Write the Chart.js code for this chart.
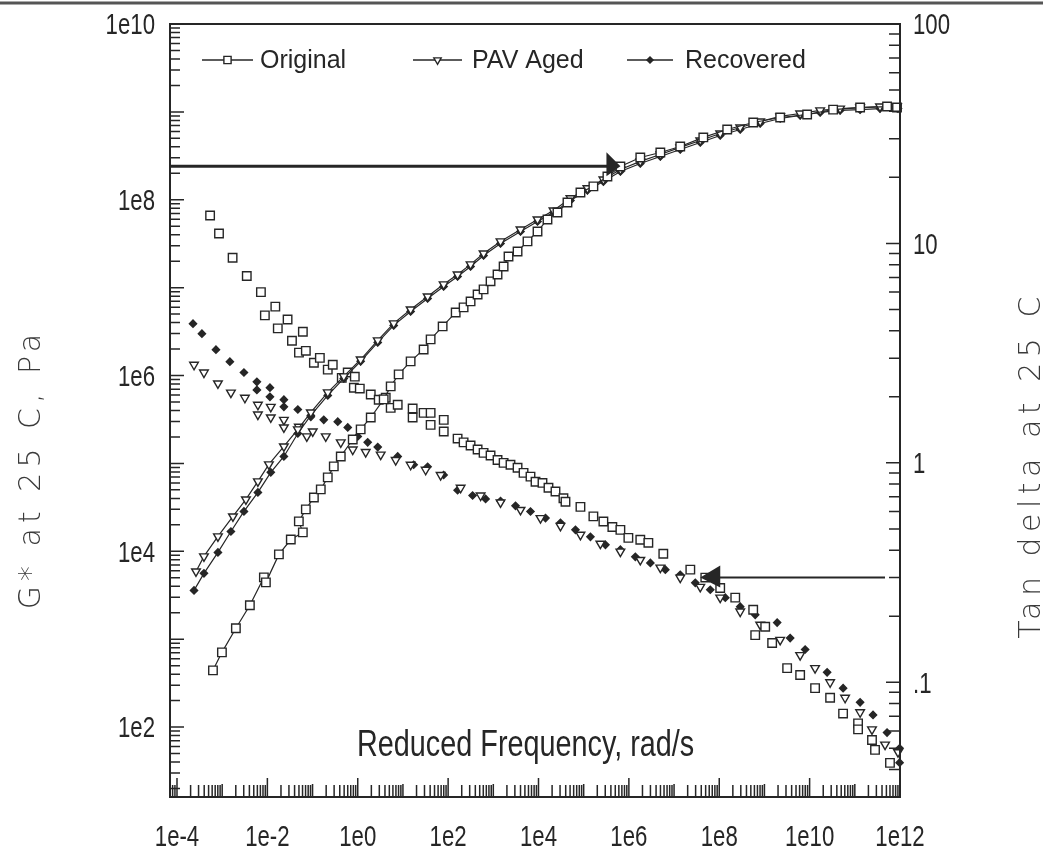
<!DOCTYPE html>
<html>
<head>
<meta charset="utf-8">
<script src="https://cdn.jsdelivr.net/npm/chart.js@4.4.1/dist/chart.umd.min.js"></script>
<style>
html,body{margin:0;padding:0;background:#fff;}
canvas{display:block;}
</style>
</head>
<body>
<canvas id="c" width="1043" height="859"></canvas>
<script>
// ---------- tick values / labels ----------
const xTickValues = [1e-4, 1e-2, 1e0, 1e2, 1e4, 1e6, 1e8, 1e10, 1e12];
const xTickLabels = ['1e-4', '1e-2', '1e0', '1e2', '1e4', '1e6', '1e8', '1e10', '1e12'];
const gTickValues = [1e2, 1e4, 1e6, 1e8, 1e10];
const gTickLabels = ['1e2', '1e4', '1e6', '1e8', '1e10'];
const tanTickValues = [0.1, 1, 10, 100];
const tanTickLabels = ['.1', '1', '10', '100'];

const seriesNames = ['Original', 'PAV Aged', 'Recovered'];
const xTitle = 'Reduced Frequency, rad/s';
const gTitle = 'G* at 25 C, Pa';
const tanTitle = 'Tan delta at 25 C';

// annotation arrows (value on axis, frequency of the arrow tip)
const arrowG = { value: 2.4e8, tip: 6.5e5 };
const arrowTan = { value: 0.3, tip: 3.8e7 };

// ---------- data: [reduced frequency rad/s, value] ----------
const originalG = [[6.25e-4,442],[9.87e-4,708],[2.01e-3,1330],[4.10e-3,2430],[8.37e-3,5050],[9.27e-3,4430],[1.80e-2,9220],[3.30e-2,1.36e4],[6.09e-2,1.64e4],[4.97e-2,2.19e4],[7.10e-2,3.00e4],[0.107,4.10e4],[0.152,5.06e4],[0.217,6.93e4],[0.295,9.25e4],[0.421,1.20e5],[0.775,1.87e5],[1.16,2.44e5],[1.94,3.33e5],[3.75,5.35e5],[5.36,7.52e5],[8.05,1.03e6],[14.8,1.45e6],[28.7,1.98e6],[41.0,2.58e6],[75.6,3.62e6],[147,5.22e6],[220,5.96e6],[314,6.97e6],[449,8.37e6],[609,9.55e6],[869,1.18e7],[1240,1.41e7],[1690,1.74e7],[2170,2.26e7],[3440,2.58e7],[5710,3.36e7],[9510,4.36e7],[15800,5.97e7],[26300,7.16e7],[43750,9.32e7],[84770,1.21e8],[1.64e5,1.42e8],[3.35e5,1.84e8],[6.49e5,2.39e8],[1.79e6,3.03e8],[4.97e6,3.45e8],[1.37e7,4.04e8],[4.44e7,5.12e8],[1.50e8,6.31e8],[5.65e8,7.57e8],[2.23e9,8.63e8],[8.81e9,9.34e8],[3.31e10,1.06e9],[1.31e11,1.12e9],[5.17e11,1.15e9],[8.59e11,1.12e9]];

const pavG = [[2.63e-4,5900],[3.95e-4,8750],[8.05e-4,1.48e4],[1.73e-3,2.49e4],[3.35e-3,3.89e4],[6.17e-3,6.24e4],[1.08e-2,9.75e4],[2.32e-2,1.56e5],[4.72e-2,2.44e5],[9.15e-2,3.80e5],[0.217,6.43e5],[0.491,9.77e5],[1.16,1.52e6],[2.77,2.51e6],[6.25,3.92e6],[14.8,5.65e6],[35.2,7.94e6],[79.6,1.09e7],[162,1.41e7],[314,1.84e7],[609,2.45e7],[1445,3.36e7],[4000,4.59e7],[9510,5.97e7],[21480,7.55e7],[50930,1.04e8],[1.21e5,1.35e8],[2.73e5,1.70e8],[6.49e5,2.21e8],[1.79e6,2.73e8],[4.97e6,3.27e8],[1.37e7,3.94e8],[3.80e7,4.73e8],[1.05e8,5.68e8],[2.91e8,6.65e8],[8.05e8,7.78e8],[2.23e9,8.87e8],[6.17e9,9.59e8],[1.71e10,1.04e9],[4.72e10,1.09e9],[1.31e11,1.12e9],[3.61e11,1.15e9],[8.59e11,1.15e9]];

const recoveredG = [[2.38e-4,3590],[3.95e-4,5610],[8.05e-4,9710],[1.56e-3,1.68e4],[3.03e-3,2.84e4],[6.17e-3,4.68e4],[1.19e-2,7.91e4],[2.32e-2,1.20e5],[4.72e-2,2.19e5],[9.15e-2,3.52e5],[0.217,5.94e5],[0.491,9.27e5],[1.16,1.45e6],[2.77,2.38e6],[6.25,3.72e6],[14.8,5.36e6],[35.2,7.54e6],[79.6,1.03e7],[162,1.34e7],[314,1.74e7],[609,2.32e7],[1445,3.18e7],[4000,4.36e7],[9510,5.66e7],[21480,7.16e7],[50930,9.82e7],[1.21e5,1.28e8],[2.73e5,1.61e8],[6.49e5,2.10e8],[1.79e6,2.59e8],[4.97e6,3.11e8],[1.37e7,3.73e8],[3.80e7,4.49e8],[1.05e8,5.39e8],[2.91e8,6.31e8],[8.05e8,7.38e8],[2.23e9,8.41e8],[6.17e9,9.10e8],[1.71e10,9.85e8],[4.72e10,1.04e9],[1.31e11,1.06e9],[3.61e11,1.09e9],[9.04e11,1.09e9]];

const originalTan = [[5.4e-4,13.4],[8.5e-4,11.1],[1.7e-3,8.6],[3.5e-3,7.1],[7.2e-3,6.0],[8.8e-3,4.7],[1.5e-2,5.15],[1.7e-2,4.1],[2.8e-2,4.5],[3.5e-2,3.6],[6.1e-2,3.96],[5.0e-2,3.18],[7.1e-2,3.24],[0.107,2.86],[0.145,3.01],[0.217,2.66],[0.28,2.8],[0.443,2.44],[0.60,2.58],[0.86,2.47],[0.82,2.2],[1.11,2.18],[1.94,2.05],[2.91,1.94],[4.16,1.98],[5.36,1.78],[7.66,1.84],[16.4,1.77],[16.4,1.61],[28.7,1.69],[41,1.69],[41,1.49],[80,1.57],[80,1.39],[162,1.29],[220,1.24],[314,1.2],[449,1.15],[609,1.11],[869,1.08],[1240,1.03],[1690,1.0],[2400,0.98],[3440,0.95],[4670,0.9],[6650,0.865],[8590,0.82],[12250,0.81],[16630,0.77],[23760,0.74],[35650,0.69],[39540,0.665],[84770,0.63],[1.64e5,0.57],[2.73e5,0.54],[4.31e5,0.51],[6.49e5,0.495],[9.75e5,0.455],[1.79e6,0.446],[2.70e6,0.432],[5.78e6,0.385],[2.29e7,0.326],[4.91e7,0.30],[1.05e8,0.269],[2.26e8,0.243],[5.64e8,0.214],[6.25e8,0.164],[1.04e9,0.179],[1.48e9,0.151],[3.18e9,0.116],[6.17e9,0.108],[1.32e10,0.094],[2.84e10,0.085],[5.5e10,0.072],[1.18e11,0.065],[1.18e11,0.061],[2.4e11,0.0546],[2.8e11,0.0492],[6.0e11,0.0429]];

const pavTan = [[2.38e-4,2.80],[3.95e-4,2.58],[8.05e-4,2.30],[1.56e-3,2.09],[3.18e-3,1.98],[6.17e-3,1.84],[6.17e-3,1.66],[1.19e-2,1.80],[1.19e-2,1.61],[2.32e-2,1.57],[2.32e-2,1.45],[4.97e-2,1.46],[7.46e-2,1.32],[0.101,1.39],[0.196,1.32],[0.421,1.24],[0.775,1.15],[1.50,1.12],[3.22,1.09],[6.92,1.03],[14.8,0.98],[31.8,0.93],[68.3,0.88],[189,0.77],[523,0.71],[1445,0.66],[4000,0.61],[11070,0.56],[30630,0.516],[84770,0.47],[2.34e5,0.428],[6.49e5,0.394],[1.79e6,0.361],[4.97e6,0.333],[1.37e7,0.30],[3.80e7,0.272],[1.05e8,0.243],[2.91e8,0.21],[8.05e8,0.183],[2.23e9,0.156],[6.17e9,0.133],[1.32e10,0.116],[2.84e10,0.100],[6.09e10,0.085],[1.31e11,0.073],[2.40e11,0.061],[4.67e11,0.052],[9.04e11,0.048]];

const recoveredTan = [[2.26e-4,4.31],[3.56e-4,3.88],[7.28e-4,3.28],[1.48e-3,2.89],[3.03e-3,2.58],[5.86e-3,2.34],[5.86e-3,2.15],[1.14e-2,2.20],[1.14e-2,2.00],[2.32e-2,1.94],[2.32e-2,1.80],[4.72e-2,1.75],[9.15e-2,1.62],[0.177,1.57],[0.361,1.54],[0.601,1.45],[1.0,1.32],[1.66,1.24],[2.77,1.18],[7.66,1.07],[17.3,0.98],[35.2,0.96],[79.6,0.88],[162,0.75],[348,0.71],[675,0.685],[1445,0.67],[3100,0.637],[6650,0.60],[14290,0.56],[30630,0.533],[65770,0.495],[1.41e5,0.46],[3.03e5,0.423],[6.49e5,0.402],[1.39e6,0.373],[2.99e6,0.35],[6.41e6,0.326],[1.37e7,0.309],[2.95e7,0.284],[6.33e7,0.264],[1.36e8,0.243],[2.91e8,0.221],[6.25e8,0.203],[1.91e9,0.187],[3.71e9,0.159],[7.96e9,0.141],[2.44e10,0.111],[5.51e10,0.094],[1.31e11,0.081],[2.53e11,0.071],[5.17e11,0.059],[9.8e11,0.050],[9.8e11,0.043]];

// ---------- styling ----------
const INK = '#262626';
const SANS = "'Liberation Sans','Arimo','DejaVu Sans',sans-serif";
const TITLEFONT = "'DejaVu Sans','Noto Sans',sans-serif";

function toPts(a) { return a.map(p => ({ x: p[0], y: p[1] })); }

const markerStyles = [
  { pointStyle: 'rect', rotation: 0, radius: 6, fill: '#fff' },
  { pointStyle: 'triangle', rotation: 180, radius: 5, fill: '#fff' },
  { pointStyle: 'rectRot', rotation: 0, radius: 3.6, fill: INK }
];

function ds(label, data, axis, m, line, inLegend) {
  return {
    label: label, data: toPts(data), yAxisID: axis, showLine: line,
    borderColor: INK, borderWidth: 1.2, tension: 0,
    pointStyle: m.pointStyle, pointRotation: m.rotation, pointRadius: m.radius,
    pointBackgroundColor: m.fill, pointBorderColor: INK, pointBorderWidth: 1.4,
    clip: false, inLegend: inLegend, marker: m
  };
}

const datasets = [
  ds(seriesNames[0], originalG, 'y', markerStyles[0], true, true),
  ds(seriesNames[1], pavG, 'y', markerStyles[1], true, true),
  ds(seriesNames[2], recoveredG, 'y', markerStyles[2], true, true),
  ds(seriesNames[0] + ' (tan delta)', originalTan, 'y1', markerStyles[0], false, false),
  ds(seriesNames[1] + ' (tan delta)', pavTan, 'y1', markerStyles[1], false, false),
  ds(seriesNames[2] + ' (tan delta)', recoveredTan, 'y1', markerStyles[2], false, false)
];

// ---------- custom drawing: frame, inner ticks, labels, arrows, titles, legend ----------
const extras = {
  id: 'extras',
  afterDraw(chart) {
    const { ctx, chartArea: a, scales } = chart;
    const sx = scales.x, sl = scales.y, sr = scales.y1;
    ctx.save();

    // scanned page border line at top
    ctx.strokeStyle = '#555'; ctx.lineWidth = 3;
    ctx.beginPath(); ctx.moveTo(0, 3); ctx.lineTo(chart.width, 3); ctx.stroke();

    // frame
    ctx.strokeStyle = INK; ctx.lineWidth = 2;
    ctx.strokeRect(a.left, a.top, a.right - a.left, a.bottom - a.top);

    // log ticks pointing inward
    function logTicks(scale, cb) {
      const lo = Math.floor(Math.log10(scale.min)), hi = Math.ceil(Math.log10(scale.max));
      for (let e = lo; e <= hi; e++) {
        for (let m = 1; m <= 9; m++) {
          const v = m * Math.pow(10, e);
          if (v < scale.min * 0.999 || v > scale.max * 1.001) continue;
          cb(scale.getPixelForValue(v), m, e);
        }
      }
    }
    ctx.lineWidth = 1.5;
    ctx.beginPath();
    logTicks(sx, (p, m, e) => { const len = m === 1 ? (e % 2 === 0 ? 19 : 13) : 12; ctx.moveTo(p, a.bottom); ctx.lineTo(p, a.bottom - len); });
    logTicks(sl, (p, m) => { const len = m === 1 ? 14 : 10; ctx.moveTo(a.left, p); ctx.lineTo(a.left + len, p); });
    logTicks(sr, (p, m) => { const len = m === 1 ? 14 : 11; ctx.moveTo(a.right, p); ctx.lineTo(a.right - len, p); });
    ctx.stroke();

    // condensed text helper (plotter-style narrow lettering)
    function narrowText(txt, x, y, align, sxf) {
      ctx.save(); ctx.translate(x, y); ctx.scale(sxf, 1);
      ctx.textAlign = align; ctx.fillText(txt, 0, 0); ctx.restore();
    }

    // tick labels
    ctx.fillStyle = INK;
    ctx.font = '30px ' + SANS;
    ctx.textBaseline = 'middle';
    xTickValues.forEach((v, i) => narrowText(xTickLabels[i], sx.getPixelForValue(v), a.bottom + 41, 'center', 0.74));
    gTickValues.forEach((v, i) => narrowText(gTickLabels[i], a.left - 15, sl.getPixelForValue(v) + 2, 'right', 0.74));
    tanTickValues.forEach((v, i) => narrowText(tanTickLabels[i], a.right + 13, sr.getPixelForValue(v) + 2, 'left', 0.74));

    // arrow 1: from left axis toward G* curves
    ctx.fillStyle = INK; ctx.strokeStyle = INK;
    const y1p = sl.getPixelForValue(arrowG.value);
    const t1 = sx.getPixelForValue(arrowG.tip);
    ctx.lineWidth = 3;
    ctx.beginPath(); ctx.moveTo(a.left, y1p); ctx.lineTo(t1 - 10, y1p); ctx.stroke();
    ctx.beginPath(); ctx.moveTo(t1, y1p); ctx.lineTo(t1 - 14, y1p - 14); ctx.lineTo(t1 - 14, y1p + 10); ctx.closePath(); ctx.fill();

    // arrow 2: from right axis toward tan delta curves
    const y2p = sr.getPixelForValue(arrowTan.value);
    const t2 = sx.getPixelForValue(arrowTan.tip);
    ctx.lineWidth = 2;
    ctx.beginPath(); ctx.moveTo(t2 + 12, y2p); ctx.lineTo(a.right - 15, y2p); ctx.stroke();
    ctx.beginPath(); ctx.moveTo(t2, y2p); ctx.lineTo(t2 + 20, y2p - 12); ctx.lineTo(t2 + 20, y2p + 10); ctx.closePath(); ctx.fill();

    // x title inside plot
    ctx.fillStyle = INK;
    ctx.font = '36px ' + SANS;
    ctx.textBaseline = 'middle';
    narrowText(chart.options.scales.x.title.text, a.left + 187, a.bottom - 51, 'left', 0.8);

    // rotated y titles
    ctx.fillStyle = '#3a3a3a';
    ctx.font = '300 30px ' + TITLEFONT;
    ctx.textAlign = 'center'; ctx.textBaseline = 'alphabetic';
    try { ctx.letterSpacing = '5px'; } catch (e) {}
    ctx.save(); ctx.translate(40, 469); ctx.rotate(-Math.PI / 2);
    ctx.fillText(chart.options.scales.y.title.text, 0, 0); ctx.restore();
    try { ctx.letterSpacing = '5.5px'; } catch (e) {}
    ctx.save(); ctx.translate(1040, 465); ctx.rotate(-Math.PI / 2);
    ctx.fillText(chart.options.scales.y1.title.text, 0, 0); ctx.restore();
    try { ctx.letterSpacing = '0px'; } catch (e) {}

    // legend inside plot area
    const ly = a.top + 36;
    const slots = [{ l1: 32, l2: 83, tx: 90 }, { l1: 243, l2: 292, tx: 302 }, { l1: 457, l2: 503, tx: 515 }];
    const legendSets = chart.data.datasets.filter(d => d.inLegend);
    ctx.font = '25px ' + SANS;
    ctx.textAlign = 'left'; ctx.textBaseline = 'middle';
    legendSets.forEach((d, i) => {
      const s = slots[i];
      ctx.strokeStyle = INK; ctx.lineWidth = 1.5;
      ctx.beginPath(); ctx.moveTo(a.left + s.l1, ly); ctx.lineTo(a.left + s.l2, ly); ctx.stroke();
      const m = d.marker;
      ctx.fillStyle = m.fill; ctx.strokeStyle = INK; ctx.lineWidth = 1.4;
      Chart.helpers.drawPoint(ctx, { pointStyle: m.pointStyle, rotation: m.rotation, radius: m.radius * 0.85, borderWidth: 1.4 }, a.left + (s.l1 + s.l2) / 2, ly);
      ctx.fillStyle = INK;
      ctx.fillText(d.label, a.left + s.tx, ly + 1);
    });
    ctx.restore();
  }
};

new Chart(document.getElementById('c'), {
  type: 'scatter',
  data: { datasets: datasets },
  options: {
    responsive: false,
    animation: false,
    devicePixelRatio: 1,
    layout: { padding: { top: 24, left: 0, right: 0, bottom: 0 } },
    plugins: { legend: { display: false }, tooltip: { enabled: false } },
    scales: {
      x: {
        type: 'logarithmic', position: 'bottom', min: 7.5e-5, max: 1e12,
        title: { display: false, text: xTitle },
        grid: { display: false, drawTicks: false }, border: { display: false },
        afterBuildTicks: s => { s.ticks = xTickValues.map(v => ({ value: v })); },
        afterFit: s => { s.height = 62; },
        ticks: { display: false, callback: (v, i) => xTickLabels[i] }
      },
      y: {
        type: 'logarithmic', position: 'left', min: 16, max: 1e10,
        title: { display: false, text: gTitle },
        grid: { display: false, drawTicks: false }, border: { display: false },
        afterBuildTicks: s => { s.ticks = gTickValues.map(v => ({ value: v })); },
        afterFit: s => { s.width = 170; },
        ticks: { display: false, callback: (v, i) => gTickLabels[i] }
      },
      y1: {
        type: 'logarithmic', position: 'right', min: 0.03, max: 100,
        title: { display: false, text: tanTitle },
        grid: { display: false, drawTicks: false }, border: { display: false },
        afterBuildTicks: s => { s.ticks = tanTickValues.map(v => ({ value: v })); },
        afterFit: s => { s.width = 143; },
        ticks: { display: false, callback: (v, i) => tanTickLabels[i] }
      }
    }
  },
  plugins: [extras]
});
</script>
</body>
</html>
